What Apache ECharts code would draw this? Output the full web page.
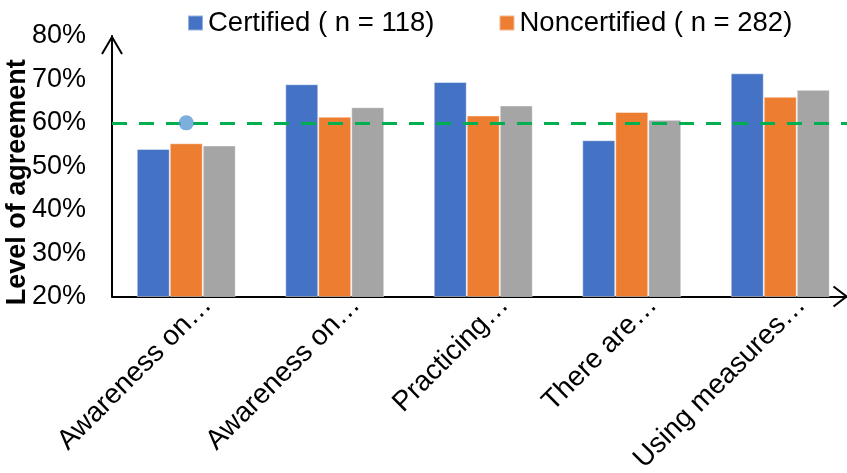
<!DOCTYPE html>
<html>
<head>
<meta charset="utf-8">
<script src="https://cdn.jsdelivr.net/npm/echarts@6/dist/echarts.min.js"></script>
<style>
  html, body { margin: 0; padding: 0; background: #fff; }
  #chart { width: 847px; height: 473px; }
</style>
</head>
<body>
<div id="chart"></div>
<script>
// Agreement levels by statement, certified vs noncertified respondents
const categories = ['Awareness on…', 'Awareness on…', 'Practicing…', 'There are…', 'Using measures…'];
const certified = [54.0, 68.9, 69.4, 56.0, 71.4];
const noncertified = [55.3, 61.4, 61.7, 62.5, 66.0];
const overall = [54.8, 63.6, 64.0, 60.7, 67.6];
const benchmark = 60;
const highlightPoint = [[0, 60]];
const yTicks = { min: 20, max: 80, step: 10 };

const FONT = '"Liberation Sans", Arial, sans-serif';
const chart = echarts.init(document.getElementById('chart'), null, { renderer: 'canvas' });

const option = {
  animation: false,
  backgroundColor: '#ffffff',
  textStyle: { fontFamily: FONT, color: '#000' },
  legend: {
    data: ['Certified ( n = 118)', 'Noncertified ( n = 282)'],
    left: 182,
    top: 4,
    itemWidth: 15,
    itemHeight: 15,
    itemGap: 64,
    icon: 'rect',
    textStyle: { fontFamily: FONT, fontSize: 27.5, color: '#000', lineHeight: 28 }
  },
  grid: { left: 112, top: 36, width: 742.5, bottom: 176.5, containLabel: false, outerBoundsMode: 'none' },
  xAxis: {
    type: 'category',
    data: categories,
    axisLine: { show: true, lineStyle: { color: '#000', width: 2 } },
    axisTick: { show: false },
    axisLabel: {
      rotate: 45,
      interval: 0,
      margin: -17,
      align: 'right',
      verticalAlign: 'top',
      lineHeight: 60,
      fontSize: 28,
      fontFamily: FONT,
      color: '#000'
    },
    splitLine: { show: false }
  },
  yAxis: {
    type: 'value',
    min: yTicks.min,
    max: yTicks.max,
    interval: yTicks.step,
    name: 'Level of agreement',
    nameLocation: 'middle',
    nameRotate: 90,
    nameGap: 81,
    nameMoveOverlap: false,
    nameTextStyle: { fontFamily: FONT, fontSize: 27, fontWeight: 'bold', color: '#000', padding: [0, 32, 0, 0] },
    axisLine: { show: true, lineStyle: { color: '#000', width: 2 } },
    axisTick: { show: false },
    axisLabel: { formatter: '{value}%', fontSize: 27, fontFamily: FONT, color: '#000', margin: 26 },
    splitLine: { show: false }
  },
  series: [
    {
      name: 'Certified ( n = 118)',
      type: 'bar',
      data: certified,
      barWidth: 33,
      barGap: '0%',
      itemStyle: { color: '#4472C4', borderColor: 'rgba(255,255,255,0.45)', borderWidth: 1 }
    },
    {
      name: 'Noncertified ( n = 282)',
      type: 'bar',
      data: noncertified,
      barWidth: 33,
      barGap: '0%',
      itemStyle: { color: '#ED7D31', borderColor: 'rgba(255,255,255,0.45)', borderWidth: 1 }
    },
    {
      name: 'Overall',
      type: 'bar',
      data: overall,
      barWidth: 33,
      barGap: '0%',
      itemStyle: { color: '#A5A5A5', borderColor: 'rgba(255,255,255,0.45)', borderWidth: 1 },
      markLine: {
        silent: true,
        symbol: ['none', 'none'],
        label: { show: false },
        lineStyle: { color: '#00B050', width: 3, type: [15, 12] },
        data: [{ yAxis: benchmark }],
        z: 5
      }
    },
    {
      name: 'Benchmark',
      type: 'scatter',
      data: highlightPoint,
      symbolSize: 15,
      itemStyle: { color: '#5B9BD5' },
      z: 10
    }
  ]
};

chart.setOption(option);

// Open chevron arrowheads at the ends of both axes
const axisTopY = chart.convertToPixel({ yAxisIndex: 0 }, yTicks.max);
const axisBaseY = chart.convertToPixel({ yAxisIndex: 0 }, yTicks.min);
const yAxisX = 112;
const rightEdge = chart.getWidth() - 0.5;
chart.setOption({
  graphic: [
    {
      type: 'polyline',
      shape: { points: [[yAxisX - 10, axisTopY + 18], [yAxisX, axisTopY + 1], [yAxisX + 10, axisTopY + 18]] },
      style: { stroke: '#000', lineWidth: 2, fill: null },
      z: 20
    },
    {
      type: 'polyline',
      shape: { points: [[rightEdge - 13, axisBaseY - 10], [rightEdge, axisBaseY], [rightEdge - 13, axisBaseY + 10]] },
      style: { stroke: '#000', lineWidth: 2, fill: null },
      z: 20
    }
  ]
});
</script>
</body>
</html>
